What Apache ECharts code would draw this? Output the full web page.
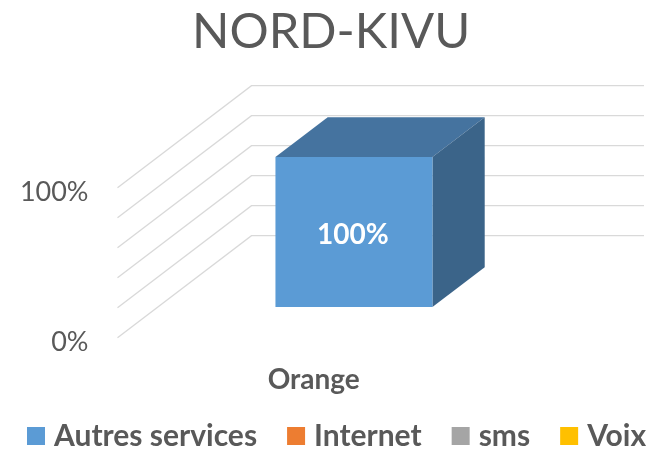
<!DOCTYPE html>
<html>
<head>
<meta charset="utf-8">
<script src="https://cdn.jsdelivr.net/npm/echarts@6/dist/echarts.min.js"></script>
<style>html,body{margin:0;padding:0;background:#fff;}#c{width:649px;height:452px;}</style>
</head>
<body>
<div id="c"></div>
<script>
const categories = ['Orange'];
const seriesNames = ['Autres services', 'Internet', 'sms', 'Voix'];
const autresServices = [1.0];
const internet = [0];
const sms = [0];
const voix = [0];
const gridTicks = [0, 0.2, 0.4, 0.6, 0.8, 1.0];
const axisLabelValues = [0, 1.0];

const seriesValues = [autresServices, internet, sms, voix];
const frontColors = ['#5B9BD5', '#ED7D31', '#A5A5A5', '#FFC000'];
const topColors = ['#45739F', '#B35E25', '#7C7C7C', '#BF9000'];
const sideColors = ['#3B6489', '#9A5020', '#6B6B6B', '#A47C00'];

const DEPTH = [134, -102];
const FRONT_F = 0.3, BACK_F = 0.69;
const FONT = 'Lato';

const chart = echarts.init(document.getElementById('c'), null, {renderer: 'canvas'});

function gridRender(params, api) {
  const cs = params.coordSys;
  const v = api.value(1);
  const y = api.coord([0, v])[1];
  return {
    type: 'polyline',
    shape: {points: [[cs.x, y], [cs.x + DEPTH[0], y + DEPTH[1]], [cs.x + cs.width + DEPTH[0], y + DEPTH[1]]]},
    style: {stroke: '#D9D9D9', lineWidth: 1.3, fill: null},
    silent: true
  };
}

function makeBarRender(sIdx) {
  return function (params, api) {
    const idx = api.value(0);
    const val = api.value(1);
    if (!val) return null;
    let base = 0;
    for (let k = 0; k < sIdx; k++) base += seriesValues[k][idx];
    const band = api.size([1, 0])[0];
    const bw = band * 0.4;
    const p0 = api.coord([idx, base]);
    const p1 = api.coord([idx, base + val]);
    const fx = FRONT_F * DEPTH[0], fy = FRONT_F * DEPTH[1];
    const dx = (BACK_F - FRONT_F) * DEPTH[0], dy = (BACK_F - FRONT_F) * DEPTH[1];
    const cx = p0[0] + fx;
    const L = cx - bw / 2, R = cx + bw / 2;
    const B = p0[1] + fy, T = p1[1] + fy;
    return {
      type: 'group',
      children: [
        {type: 'polygon', shape: {points: [[L, T], [R, T], [R + dx, T + dy], [L + dx, T + dy]]}, style: {fill: topColors[sIdx]}},
        {type: 'polygon', shape: {points: [[R, T], [R + dx, T + dy], [R + dx, B + dy], [R, B]]}, style: {fill: sideColors[sIdx]}},
        {type: 'rect', shape: {x: L, y: T, width: bw, height: B - T}, style: {fill: frontColors[sIdx]}},
        {type: 'text', x: cx - 1, y: (T + B) / 2 + 3, style: {text: Math.round(val * 100) + '%', fill: '#ffffff', font: 'bold 28px ' + FONT, align: 'center', verticalAlign: 'middle'}}
      ]
    };
  };
}

const series = [{
  type: 'custom',
  name: '_grid',
  renderItem: gridRender,
  data: gridTicks.map(v => [0, v]),
  encode: {x: 0, y: 1},
  silent: true,
  z: 1
}];
seriesNames.forEach((name, i) => {
  series.push({
    type: 'custom',
    name: name,
    renderItem: makeBarRender(i),
    itemStyle: {color: frontColors[i]},
    data: categories.map((c, j) => [j, seriesValues[i][j]]),
    encode: {x: 0, y: 1},
    z: 2
  });
});

chart.setOption({
  animation: false,
  backgroundColor: '#ffffff',
  title: {
    text: 'NORD-KIVU',
    left: 192,
    top: 8,
    padding: 0,
    textStyle: {fontFamily: FONT, fontSize: 49, fontWeight: 'normal', color: '#595959'}
  },
  legend: {
    data: seriesNames.map(n => ({name: n, icon: 'rect'})),
    left: 27,
    top: 421,
    width: 640,
    padding: 0,
    itemWidth: 18,
    itemHeight: 18,
    itemGap: 30,
    textStyle: {fontFamily: FONT, fontSize: 30, fontWeight: 'bold', color: '#595959', padding: [0, 0, 0, 4]}
  },
  grid: {left: 117.5, right: 139, top: 187.7, bottom: 114.3, containLabel: false},
  xAxis: {
    type: 'category',
    data: categories,
    axisLine: {show: false},
    axisTick: {show: false},
    axisLabel: {margin: 28, fontFamily: FONT, fontSize: 28, fontWeight: 'bold', color: '#595959'}
  },
  yAxis: {
    type: 'value',
    min: 0,
    max: 1,
    interval: 0.2,
    axisLine: {show: false},
    axisTick: {show: false},
    splitLine: {show: false},
    axisLabel: {
      margin: 29,
      formatter: v => axisLabelValues.some(a => Math.abs(a - v) < 1e-9) ? '{a|' + Math.round(v * 100) + '%}' : '',
      rich: {a: {fontFamily: FONT, fontSize: 27, color: '#595959', padding: [10, 0, 0, 0]}}
    }
  },
  series: series
});
</script>
</body>
</html>
